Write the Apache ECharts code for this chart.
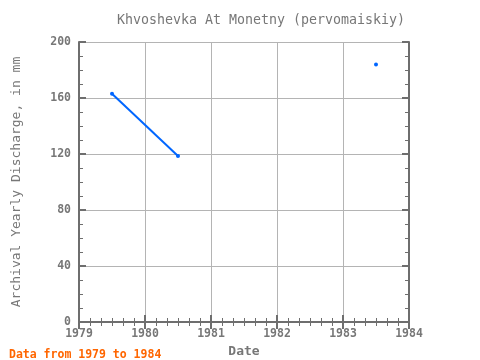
<!DOCTYPE html>
<html><head><meta charset="utf-8">
<script src="https://cdn.jsdelivr.net/npm/echarts@6/dist/echarts.min.js"></script>
<style>html,body{margin:0;padding:0;background:#fff}#c{width:480px;height:360px}</style>
</head><body><div id="c"></div>
<script>
const years = [1979.5, 1980.5, 1981.5, 1982.5, 1983.5];
const discharge = [163, 118.5, null, null, 184];
const xTicks = [1979, 1980, 1981, 1982, 1983, 1984];
const yTicks = [0, 40, 80, 120, 160, 200];

const font = '"DejaVu Sans Mono", monospace';
const grey = '#777';
const axisCol = '#6e6e6e';
const data = years.map((y, i) => [y, discharge[i]]);

const chart = echarts.init(document.getElementById('c'), null, {renderer: 'canvas'});
const baseX = {
  type: 'value', min: xTicks[0], max: xTicks[xTicks.length - 1], interval: 1,
  axisLine: {show: true, lineStyle: {color: axisCol, width: 2}},
  axisTick: {show: true, inside: true, length: 7, lineStyle: {color: axisCol, width: 2}},
  minorTick: {show: true, splitNumber: 6, length: 4, lineStyle: {color: axisCol, width: 1}},
  splitLine: {show: false}
};
const baseY = {
  type: 'value', min: yTicks[0], max: yTicks[yTicks.length - 1], interval: 40,
  axisLine: {show: true, lineStyle: {color: axisCol, width: 2}},
  axisTick: {show: true, inside: true, length: 7, lineStyle: {color: axisCol, width: 2}},
  minorTick: {show: true, splitNumber: 4, length: 4, lineStyle: {color: axisCol, width: 1}},
  splitLine: {show: false}
};
chart.setOption({
  animation: false,
  title: [
    {text: 'Khvoshevka At Monetny (pervomaiskiy)', left: 256, top: 9, textAlign: 'center',
     textStyle: {fontFamily: font, fontSize: 13.3, fontWeight: 'normal', color: grey}},
    {text: 'Data from 1979 to 1984', left: 4, top: 344,
     textStyle: {fontFamily: font, fontSize: 11.5, fontWeight: 'bold', color: '#ff6600'}}
  ],
  grid: {left: 79, right: 71, top: 42, bottom: 38, containLabel: false, outerBoundsMode: 'none'},
  xAxis: [
    Object.assign({}, baseX, {
      position: 'bottom', name: 'Date', nameLocation: 'middle', nameGap: 21,
      nameTextStyle: {fontFamily: font, fontSize: 13, fontWeight: 'bold', color: grey},
      axisLabel: {fontFamily: font, fontSize: 11.5, fontWeight: 'bold', color: grey, margin: 6,
        formatter: v => String(v)},
      splitLine: {show: true, lineStyle: {color: '#b4b4b4', width: 1}}
    }),
    Object.assign({}, baseX, {position: 'top', axisLabel: {show: false}})
  ],
  yAxis: [
    Object.assign({}, baseY, {
      position: 'left', name: 'Archival Yearly Discharge, in mm', nameLocation: 'middle', nameGap: 56,
      nameTextStyle: {fontFamily: font, fontSize: 13, fontWeight: 'normal', color: grey},
      axisLabel: {fontFamily: font, fontSize: 11.5, fontWeight: 'bold', color: grey, margin: 8},
      splitLine: {show: true, lineStyle: {color: '#b4b4b4', width: 1}}
    }),
    Object.assign({}, baseY, {position: 'right', axisLabel: {show: false}})
  ],
  series: [{
    type: 'line', data: data, xAxisIndex: 0, yAxisIndex: 0,
    connectNulls: false,
    symbol: 'circle', symbolSize: 4, showSymbol: true,
    lineStyle: {color: '#0066ff', width: 2},
    itemStyle: {color: '#0066ff'}
  }]
});
</script></body></html>
